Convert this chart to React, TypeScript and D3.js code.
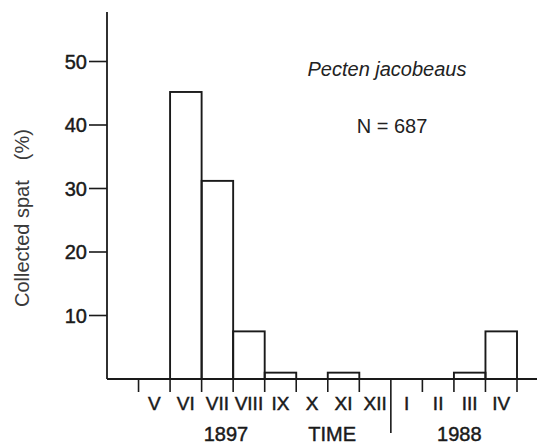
import { useEffect, useRef } from "react"
import * as d3 from "d3"

// monthly bins, first bin is unlabeled
const months = ["", "V", "VI", "VII", "VIII", "IX", "X", "XI", "XII", "I", "II", "III", "IV"]
const spat = [0, 0, 45.2, 31.2, 7.5, 1, 0, 1, 0, 0, 0, 1, 7.5]
const yTicks = [10, 20, 30, 40, 50]
const speciesName = "Pecten jacobeaus"
const sampleSize = "N = 687"

export default function App() {
  const svgRef = useRef<SVGSVGElement>(null)

  useEffect(() => {
    if (!svgRef.current) return
    const root = d3.select(svgRef.current)
    root.selectAll("*").remove()

    const width = 537
    const height = 446
    const font = "'Liberation Sans', Arial, sans-serif"
    const ink = "#1a1a1a"

    root.attr("width", width).attr("height", height)
    root.append("rect").attr("width", width).attr("height", height).attr("fill", "#fff")

    const x = d3
      .scaleBand<number>()
      .domain(months.map((_, i) => i))
      .range([107, 517])
      .paddingInner(0)
      .paddingOuter(0)
    const bw = x.bandwidth()

    const y = d3.scaleLinear().domain([0, 50]).range([379, 61.5])

    // scanned look: text a little heavier
    const heavy = (sel: any, w = 0.45) => sel.attr("stroke", ink).attr("stroke-width", w)

    // y axis
    const yAxis = root.append("g").attr("transform", "translate(107,0)")
    yAxis
      .append("line")
      .attr("x1", 0)
      .attr("x2", 0)
      .attr("y1", 12)
      .attr("y2", y(0))
      .attr("stroke", ink)
      .attr("stroke-width", 1.8)
    const yt = yAxis.selectAll("g.tick").data(yTicks).enter().append("g").attr("class", "tick")
    yt.append("line")
      .attr("x1", -18)
      .attr("x2", 0)
      .attr("y1", (d) => y(d))
      .attr("y2", (d) => y(d))
      .attr("stroke", ink)
      .attr("stroke-width", 1.6)
    heavy(
      yt
        .append("text")
        .attr("x", -20)
        .attr("y", (d) => y(d))
        .attr("dy", "0.36em")
        .attr("text-anchor", "end")
        .attr("font-family", font)
        .attr("font-size", 20)
        .attr("fill", ink)
        .text((d) => d),
    )

    // y label
    const yl = root
      .append("text")
      .attr("transform", "translate(29,307) rotate(-90)")
      .attr("font-family", font)
      .attr("font-size", 20)
      .attr("fill", "#3a3a3a")
    yl.append("tspan").text("Collected spat")
    yl.append("tspan").attr("dx", 20).text("(%)")

    // x axis
    root
      .append("line")
      .attr("x1", 107)
      .attr("x2", 537)
      .attr("y1", y(0))
      .attr("y2", y(0))
      .attr("stroke", ink)
      .attr("stroke-width", 1.8)

    const bounds = months.map((_, i) => i).slice(1).concat([months.length])
    root
      .selectAll("line.xtick")
      .data(bounds)
      .enter()
      .append("line")
      .attr("class", "xtick")
      .attr("x1", (i) => (x(i) ?? x(i - 1)! + bw))
      .attr("x2", (i) => (x(i) ?? x(i - 1)! + bw))
      .attr("y1", y(0))
      .attr("y2", (i) => (months[i] === "I" ? 433 : 392))
      .attr("stroke", ink)
      .attr("stroke-width", 1.6)

    heavy(
      root
        .selectAll("text.month")
        .data(months)
        .enter()
        .append("text")
        .attr("class", "month")
        .attr("x", (_, i) => x(i)! + bw / 2)
        .attr("y", 410)
        .attr("text-anchor", "middle")
        .attr("font-family", font)
        .attr("font-size", 19)
        .attr("fill", ink)
        .text((d) => d),
    )

    // year / axis captions
    const idx = d3.scaleLinear().domain([0, months.length]).range([107, 517])
    const captions: [string, number][] = [
      ["1897", 3.77],
      ["TIME", 7.14],
      ["1988", 11.17],
    ]
    heavy(
      root
        .selectAll("text.cap")
        .data(captions)
        .enter()
        .append("text")
        .attr("class", "cap")
        .attr("x", (d) => idx(d[1]))
        .attr("y", 441)
        .attr("text-anchor", "middle")
        .attr("font-family", font)
        .attr("font-size", 20)
        .attr("fill", ink)
        .text((d) => d[0]),
    )

    // histogram bars (outline only)
    root
      .selectAll("rect.bar")
      .data(spat.map((v, i) => ({ v, i })).filter((d) => d.v > 0))
      .enter()
      .append("rect")
      .attr("class", "bar")
      .attr("x", (d) => x(d.i)!)
      .attr("y", (d) => y(d.v))
      .attr("width", bw)
      .attr("height", (d) => y(0) - y(d.v))
      .attr("fill", "none")
      .attr("stroke", ink)
      .attr("stroke-width", 1.9)

    // annotations
    root
      .append("text")
      .attr("x", 387)
      .attr("y", 76)
      .attr("text-anchor", "middle")
      .attr("font-family", font)
      .attr("font-style", "italic")
      .attr("font-size", 20)
      .attr("fill", "#222")
      .text(speciesName)
    root
      .append("text")
      .attr("x", 392)
      .attr("y", 133)
      .attr("text-anchor", "middle")
      .attr("font-family", font)
      .attr("font-size", 20)
      .attr("fill", "#222")
      .text(sampleSize)
  }, [])

  return (
    <div style={{ position: "absolute", left: 0, top: 0 }}>
      <svg ref={svgRef} style={{ display: "block" }}></svg>
    </div>
  )
}
